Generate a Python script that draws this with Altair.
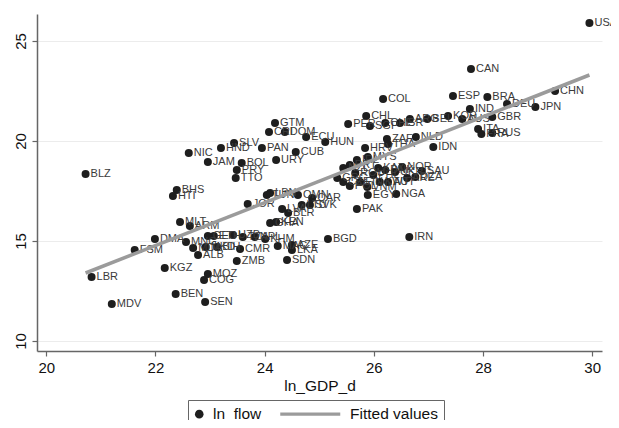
import altair as alt
import pandas as pd

countries = [
    "USA", "CAN", "CHN", "BRA", "ESP", "DEU", "JPN", "IND", "GBR", "ITA", "FRA", "RUS",
    "COL", "CHL", "PER", "SGP", "CHE", "ISR", "ARG", "BEL", "KOR", "AUS",
    "HUN", "HRV", "ZAF", "THA", "NLD", "IDN", "IRL", "MYS", "NOR", "SAU", "ARE", "DZA",
    "EGY", "NGA", "PAK", "IRN", "BGD",
    "NZL", "PRT", "GRC", "CZE", "ROU", "FIN", "VNM", "PHL", "KWT", "AUT", "DNK", "UKR", "KAZ", "POL",
    "GTM", "CRI", "DOM", "ECU", "SLV", "HND", "NIC", "PAN", "CUB", "URY", "JAM", "BOL", "PRY", "TTO",
    "BLZ", "BHS", "HTI", "MLT", "ARM", "JOR", "TUN", "LBN", "OMN", "QAR", "LTU", "SVK", "BLR", "LVA",
    "GHA", "KEN", "DMA", "MNG", "FSM", "MDA", "MKD", "ALB", "BIH", "CMR", "GEO", "ETH", "UZB", "TZA",
    "NPL", "KHM", "MAC", "AZE", "LKA", "ZMB", "SDN", "KGZ", "MOZ", "COG", "LBR", "MDV", "BEN", "SEN",
]
ln_gdp_d = [
    29.95, 27.78, 29.32, 28.08, 27.45, 28.44, 28.96, 27.76, 28.17, 27.91, 27.97, 28.17,
    26.17, 25.86, 25.53, 25.93, 26.21, 26.48, 26.66, 26.98, 27.36, 27.62,
    25.11, 25.84, 26.24, 26.26, 26.77, 27.09, 25.69, 25.89, 26.52, 26.88, 26.61, 26.76,
    25.89, 26.41, 25.69, 26.65, 25.16,
    25.44, 25.56, 25.33, 25.44, 25.66, 25.75, 25.88, 25.99, 26.11, 26.26, 26.21, 26.39, 26.08, 25.56,
    24.19, 24.08, 24.37, 24.76, 23.44, 23.20, 22.61, 23.95, 24.57, 24.21, 22.96, 23.58, 23.49, 23.47,
    20.72, 22.39, 22.32, 22.45, 22.63, 23.69, 24.04, 24.10, 24.61, 24.87, 24.68, 24.83, 24.43, 24.32,
    24.10, 24.21, 21.99, 22.56, 21.62, 22.69, 22.92, 22.78, 23.13, 23.55, 22.96, 23.07, 23.42, 23.60,
    23.82, 24.01, 24.24, 24.50, 24.50, 23.49, 24.41, 22.17, 22.96, 22.89, 20.83, 21.20, 22.37, 22.91,
]
ln_flow = [
    25.90, 23.60, 22.50, 22.20, 22.25, 21.85, 21.70, 21.60, 21.20, 20.60, 20.35, 20.40,
    22.10, 21.25, 20.85, 20.75, 20.90, 20.90, 21.10, 21.10, 21.25, 21.10,
    19.95, 19.65, 20.10, 19.85, 20.20, 19.70, 19.05, 19.20, 18.70, 18.50, 18.15, 18.20,
    17.30, 17.35, 16.60, 15.20, 15.10,
    18.65, 18.80, 18.15, 17.95, 18.40, 17.95, 17.70, 18.30, 17.95, 17.95, 18.55, 18.45, 18.65, 17.75,
    20.90, 20.45, 20.45, 20.20, 19.90, 19.65, 19.40, 19.65, 19.45, 19.05, 18.95, 18.90, 18.55, 18.15,
    18.35, 17.55, 17.25, 15.95, 15.75, 16.85, 17.30, 17.40, 17.30, 17.15, 16.80, 16.80, 16.40, 16.60,
    15.90, 15.95, 15.10, 14.95, 14.55, 14.65, 14.70, 14.30, 14.70, 14.60, 15.25, 15.25, 15.30, 15.20,
    15.20, 15.10, 14.75, 14.80, 14.55, 14.00, 14.05, 13.65, 13.35, 13.05, 13.20, 11.85, 12.35, 11.95,
]
fit_x = [20.72, 29.95]
fit_y = [13.40, 23.30]
x_ticks = [20, 22, 24, 26, 28, 30]
y_ticks = [10, 15, 20, 25]
series = ["ln_flow", "Fitted values"]

df = pd.DataFrame({"country": countries, "ln_GDP_d": ln_gdp_d, "ln_flow": ln_flow})
fit = pd.DataFrame({"ln_GDP_d": fit_x, "fitted": fit_y})

FONT = "Liberation Sans"
DOT = "#1e1e1e"
LINE = "#9b9b9b"

xscale = alt.Scale(domain=[19.83, 30.18], nice=False, zero=False)
yscale = alt.Scale(domain=[9.5, 26.35], nice=False, zero=False)
cscale = alt.Scale(domain=series, range=[DOT, LINE])

# legend glyphs (unit square scaled by sqrt(size)/2 = 7 px, centred at x = 7)
dot_path = "M-0.971,0A0.614,0.614,0,1,0,0.257,0A0.614,0.614,0,1,0,-0.971,0Z"
bar_path = "M-8.357,-0.24H0.214V0.24H-8.357Z"
sscale = alt.Scale(domain=series, range=[dot_path, bar_path])

legend = alt.Legend(
    title=None,
    orient="none",
    legendX=151,
    legendY=386,
    direction="horizontal",
    strokeColor="#666666",
    fillColor="white",
    padding=6,
    columnPadding=18,
    symbolSize=196,
    symbolOpacity=1,
    symbolStrokeWidth=0,
    labelOffset=3.5,
    labelFont=FONT,
    labelFontSize=15.5,
    labelColor="#111111",
)

x_enc = alt.X(
    "ln_GDP_d:Q",
    scale=xscale,
    axis=alt.Axis(
        values=x_ticks, format="d", title="ln_GDP_d", grid=False, tickSize=5,
        labelFontSize=15, titleFontSize=15.5, labelPadding=4, titlePadding=3,
    ),
)
y_enc = alt.Y(
    "ln_flow:Q",
    scale=yscale,
    axis=alt.Axis(
        values=y_ticks, format="d", title=None, grid=True, tickSize=5,
        labelAngle=270, labelAlign="center", labelBaseline="bottom",
        labelFontSize=15, labelPadding=4,
    ),
)

points = alt.Chart(df).mark_circle(size=64, opacity=1, color=DOT).encode(x=x_enc, y=y_enc)

labels = alt.Chart(df).mark_text(
    align="left", baseline="middle", dx=5, font=FONT, fontSize=11, color="#3a3a3a"
).encode(
    x=alt.X("ln_GDP_d:Q", scale=xscale),
    y=alt.Y("ln_flow:Q", scale=yscale),
    text="country:N",
)

line = alt.Chart(fit).mark_line(strokeWidth=3.5, strokeCap="butt", color=LINE).encode(
    x=alt.X("ln_GDP_d:Q", scale=xscale),
    y=alt.Y("fitted:Q", scale=yscale),
)

key = alt.Chart(alt.Data(values=[])).mark_point(filled=True, opacity=1, size=196).encode(
    color=alt.Color("series:N", scale=cscale, legend=legend),
    shape=alt.Shape("series:N", scale=sscale, legend=legend),
)

chart = (
    alt.layer(points, labels, line, key)
    .properties(
        width=565,
        height=337,
        autosize=alt.AutoSizeParams(type="none"),
        padding={"left": 29, "top": 6, "right": 9, "bottom": 69},
        background="white",
    )
    .configure_view(strokeWidth=0)
    .configure_axis(
        domainColor="#666666",
        domainWidth=1.5,
        tickColor="#666666",
        tickWidth=1.2,
        labelColor="#111111",
        titleColor="#111111",
        labelFont=FONT,
        titleFont=FONT,
        titleFontWeight="normal",
        gridColor="#ececec",
        gridWidth=1,
    )
)

chart.save("out.html", embed_options={"renderer": "svg", "actions": False})
